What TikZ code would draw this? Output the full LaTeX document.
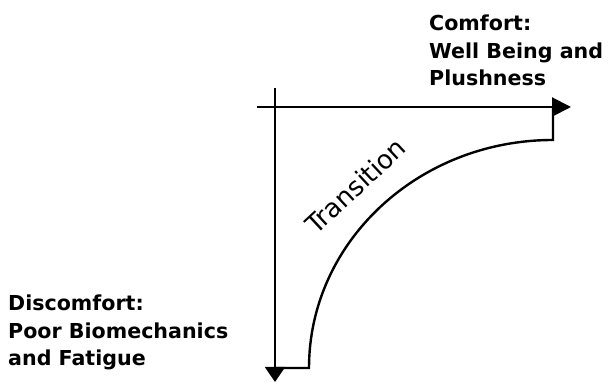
\documentclass[tikz,border=0pt]{standalone}
\usepackage{fontspec}
\setmainfont{DejaVu Sans}
\usetikzlibrary{arrows.meta}
\begin{document}
\begin{tikzpicture}[x=1pt,y=1pt,
  axis/.style={line width=2pt},
  curve/.style={line width=2.4pt},
  lbl/.style={font=\bfseries\fontsize{20.6}{27.5}\selectfont, align=left, inner sep=0pt}]
\useasboundingbox (0,0) rectangle (608,382);
% axes
\coordinate (hstart) at (257,275);
\coordinate (htip) at (571,275);
\coordinate (vstart) at (275,294);
\coordinate (vtip) at (275,0);
\draw[axis,-{Triangle[length=19pt,width=19pt]}] (hstart) -- (htip);
\draw[axis,-{Triangle[length=15pt,width=20pt]}] (vstart) -- (vtip);
% transition curve
\coordinate (c0) at (275,14);
\coordinate (c1) at (309,14);
\coordinate (c2) at (553,242);
\coordinate (c3) at (553,275);
\draw[curve,line join=miter] (c0) -- (c1) arc[start angle=180,end angle=90,x radius=244,y radius=228] -- (c3);
% labels
\node[lbl,anchor=north west] (comfort) at (429,367) {Comfort:\\Well Being and\\Plushness};
\node[lbl,anchor=north west] (discomfort) at (8,87) {Discomfort:\\Poor Biomechanics\\and Fatigue};
\node[font=\fontsize{26}{30}\selectfont,rotate=43,inner sep=0pt,anchor=base] (trans) at (362,189) {Transition};
\end{tikzpicture}
\end{document}
